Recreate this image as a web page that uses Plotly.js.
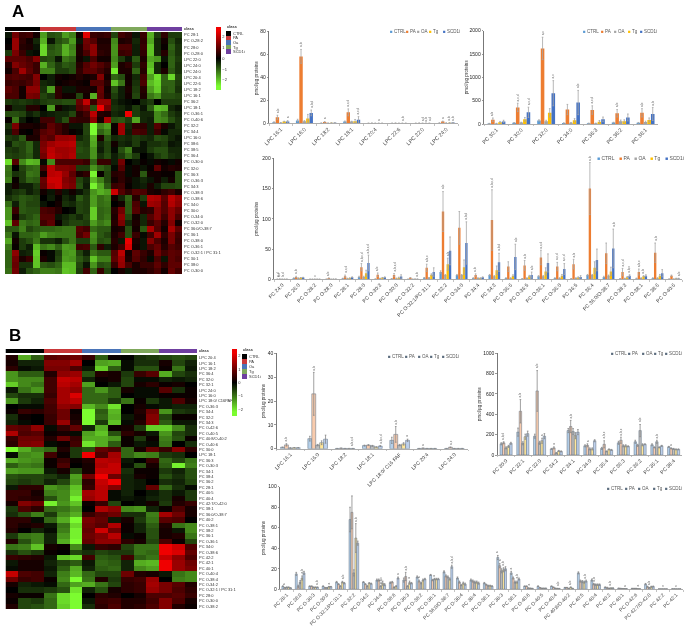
<!DOCTYPE html>
<html><head><meta charset="utf-8">
<script src="https://cdn.plot.ly/plotly-3.0.1.min.js"></script>
<style>html,body{margin:0;padding:0;background:#fff}#p{width:685px;height:629px;filter:blur(.35px)}</style>
</head><body><div id="p"></div>
<script>
const seriesNames=['CTRL','PA','OA','Tg','SCD1i'];
const classNames=['CTRL','PA','Oa','Tg','SCD1i'];
const classColors=['#000000','#C9383A','#4A74B8','#7FA85C','#6F3FA0'];
const seriesColorsA=['#5B9BD5','#ED7D31','#A5A5A5','#FFC000','#4472C4'];
const seriesColorsB=['#B5D0EA','#F8CBAD','#BFBFBF','#FFE699','#BDD0EC'];

const rowsA=['PC 28:1','PC O-28:2','PC 28:0','PC O-28:0','LPC 22:0','LPC 24:0','LPC 24:0','LPC 20:4','LPC 22:6','LPC 18:2','LPC 16:1','PC 36:2','LPC 18:1','PC O-36:1','PC O-40:6','PC 32:2','PC 34:4','LPC 16:0','PC 38:6','PC 38:5','PC 36:4','PC O-30:0','PC 32:0','PC 36:3','PC O-36:3','PC 34:3','PC O-38:3','PC O-38:6','PC 34:0','PC 30:0','PC O-34:0','PC O-32:0','PC 36:0/O-38:7','PC 36:1','PC O-38:0','PC O-36:1','PC O-32:1 / PC 31:1','PC 30:1','PC 38:0','PC O-30:0'];
const heatA=[
[-.2,1.2,.6,.7,.2,-1.6,-.8,-.9,-1.6,-1.3,.2,2.4,.6,.5,.6,-.7,.7,.5,-.2,.6,-1.8,-.6,.5,-.6,-.6],
[0,1.6,.5,.2,-.4,-1.8,-.2,-.8,-1,-1.6,-.2,1.2,.9,.3,.3,-1.4,.3,.4,-.4,.5,-1.7,-.4,.2,-.8,-.4],
[.1,1.6,.4,.3,-.2,-2.2,-.8,-1,-1.8,-1.3,.3,1.1,1.5,.4,.4,-1.5,.8,.8,-.3,.6,-2,-.4,.1,-1,-.5],
[-.6,1.3,.6,-.2,-.1,-2.2,-.9,-1,-1.8,-1.4,.3,.8,1.5,.5,.4,-1.5,.6,.7,-.3,.5,-2,-.4,.4,-.9,-.5],
[1,1,1,.8,1.4,-.7,-.8,-.2,-1.2,-1,.2,-.2,.8,.2,.2,-1.4,-.6,-.2,-.9,.3,-1.7,-1.5,-.2,-1,-.6],
[.4,1.4,1.1,.9,.6,-1.8,-1,-.6,-.9,-.8,.4,.9,1.2,.9,.6,-1.6,.3,.5,-.6,.5,-1.9,-.4,0,-1,-.5],
[.2,.8,1.7,1,.6,-1.3,-1.3,-.6,-.6,-.8,.5,1,1,.7,.4,-2.4,.3,.3,-1,.4,-2.1,-.4,.3,-.9,-.5],
[.8,.9,.8,.7,1.4,0,-.3,.2,.1,.2,.4,.2,.3,1.4,.2,-1,-.8,.2,-.4,.7,-1.6,-2.3,-1,-2.2,-.7],
[.6,.7,.6,.8,1.3,-.4,-.3,.1,.2,.3,.2,.1,.9,.9,.4,-2,-1.2,.2,-.5,.8,-1.9,-2.2,-1,-1,-.6],
[1,.8,.2,1.5,1.5,-.5,-1.6,.5,-.2,-.2,.3,.3,.2,1.1,.2,-.8,-.3,.3,-.6,.4,-1.6,-2.1,-.9,-1,-.5],
[.8,.8,.2,1.3,1.2,-.7,-.5,.5,.2,.2,-.7,.2,-1.8,1,.3,-.6,-.3,.2,-.7,.3,-1.2,-1.5,-.8,-.8,-.7],
[-.6,-.5,-.6,-.5,-.4,-.6,-.7,-.7,-.8,-.8,1.1,2.1,.6,1.6,1.6,-.4,-.2,-.1,0,-.4,-.6,0,-.6,-.6,-.6],
[.2,-.4,-.4,.4,.4,0,-1.6,.2,-.2,-.3,.9,1.2,-.8,2.6,1.2,-.5,-.4,-.2,-.6,-.2,-.9,-1.9,-1.8,-.4,-.2],
[-.8,-.8,-.7,-.3,-.5,-.2,-.3,-.4,-.4,-.7,.4,.7,2,.4,.3,-.4,-.3,2.8,-.6,-.4,-.4,-1.4,-1.1,-.6,-.4],
[.1,-1.2,-.3,0,-.1,.7,.7,-.4,-.8,.6,.5,.5,1.5,.2,1.8,-.8,-.9,-.6,-1.7,-.4,-.3,-1.4,-1.3,-.8,-.5],
[-.5,1.3,.3,.3,.2,.4,1,.7,.4,-.2,-.2,-.7,-2.6,-1.3,-1.6,.1,1.7,-.4,.5,.5,-.3,.9,.3,-.2,-.5],
[-.3,.8,.1,0,.4,.9,1.1,.7,.4,.1,-.1,-.7,-2.6,-1,-1.3,.1,1.7,-.3,.8,.7,-.3,.6,-.1,-.4,-.4],
[-.6,-.5,-.9,.3,.3,1.1,.9,1.6,1.6,1.7,-.4,-.6,-1.8,.3,-.9,-.4,-.5,-.4,-.6,-.5,-.4,-.8,-.7,-.4,-.2],
[-.3,-.8,-.7,-1,-.4,1.3,1.7,1.9,1.9,2,-.7,-.6,-1.7,-.4,-.7,.2,-.4,-.3,-.6,-.2,-.5,-.5,-.6,-.2,-.3],
[-.6,-.5,-.7,-1,-.4,1.4,2,1.7,1.7,1.8,-.8,-.7,-1.5,-.3,-.7,-.1,-.8,-1.3,-.2,-.2,-.6,-.8,-.8,-.4,-.4],
[-.7,-.6,-.7,-.9,-.4,1.2,2.1,1.8,1.7,1.9,-.7,-.7,-1.5,-.5,-.8,-.3,-.6,-1,-.6,0,-.2,-.6,-.8,-.5,-.4],
[-2.3,.9,-1.4,-1.9,-1.8,-.1,-1.4,.8,.8,.8,.8,.6,-1,.6,.6,-.3,1.2,0,-.2,.1,-.1,.2,.1,-.1,.2],
[-1.2,0,-.7,-1,-1.1,.7,2,1.4,1.4,1.3,-.6,-.6,-1.5,-1,-.8,-.1,.9,-.1,.2,-.2,.1,1,.2,.4,.3],
[-1.1,-.5,-.6,-1.2,-1.1,.2,2,2.1,1.6,1,.3,.5,-2.5,.1,-.7,.4,.5,-.1,.2,-.9,.2,.2,.1,.1,-.8],
[-1.3,.1,-.6,-1,-.9,1.1,2.2,2.2,1.4,1.2,-.7,-.4,-1.9,-1.3,-.7,.2,.5,.2,-.2,-.4,-.2,.2,-.3,.2,-.8],
[-.3,.2,-.3,-.3,-.6,1,2,2.2,1.5,1.3,-.8,-.3,-2.5,-1.7,-.9,.6,.7,.1,-.2,-.3,.3,-.3,-.7,-.7,-.8],
[-.3,-.5,-.6,-.3,-.5,.2,-.2,.4,-.2,.2,-.2,-.5,-1.5,-1.8,-1.6,2.2,.9,.5,.9,.8,.3,.2,.5,.7,.3],
[-.5,-.7,-.9,-.8,-.7,0,-.3,.1,-.4,-.2,-.9,-.6,-1.6,-1.1,-1.3,.2,-.4,-1,.4,-.6,1.9,1.8,1,2,1.6],
[-1.1,-.3,-.9,-.7,-.7,-.2,0,.2,-.5,-.4,-.7,-.6,-1.6,-1.1,-1.2,0,.2,-.9,.8,-.2,1.7,1.6,.9,1.9,1.5],
[-1.5,.6,-.9,-.8,-.8,.8,.7,.4,0,-.1,-.7,-.6,-2.1,-1,-1.1,.4,1.2,-.9,.9,.4,.5,1.4,.9,1.5,1.1],
[-1.5,.2,-.6,-.8,-1,.9,.9,-.2,-.4,-.6,-.4,-.7,-2.1,-1,-1.2,.3,1.5,-.7,.2,-.4,.9,1.4,.7,1.5,.8],
[-2,1,-1.2,-1,-1.1,.7,1,.1,-.5,-.7,-.7,-.6,-1.6,-1.2,-1.4,.4,1.3,-.4,.3,-.4,.6,1,.4,1.4,.2],
[-.9,-.9,-1.3,-.7,-.9,-1,-1,-1.1,-1.2,-1.2,.9,.7,-1.1,-.9,-.9,.2,.3,-.8,.2,-.9,1.8,.9,.2,1.8,1],
[-1.2,-.2,-1,-1,-1.1,-1.6,-1.3,-1.2,-1.2,-1.2,.8,1.2,-1.5,-.9,-.7,.3,.7,-.8,.6,-.1,.7,1.7,.5,1.3,.7],
[-1.7,.2,-.6,-.8,-1.2,-.5,-.5,-.3,-.8,-1.2,-.6,-.6,-1.4,-.8,-.9,.4,-.2,2.5,.3,-.2,1.4,.8,.3,1.3,.6],
[-1.2,.1,-.6,-.3,-1.9,-1.2,-1.4,-1,-1.6,-1.5,.7,.8,-.9,.5,-.3,.3,.7,2.3,.2,-.2,.8,1.1,.4,.9,.7],
[-1,1.5,-.3,-.4,-2.1,.1,-.1,-.6,-1.5,-1.6,-.7,-.3,-1.2,-.9,-.9,.9,2,.2,1,.6,.3,1.2,.7,1,.9],
[-1,1.2,.3,.6,-2,.3,-.1,-.7,-1.6,-1.5,-.9,-.6,-2,-1.3,-1.3,1,1.7,.3,.9,.5,-.1,.8,-.2,1,.8],
[-1,1.1,-.5,-.5,-2,-.9,-.8,-1,-1.9,-1.9,-.7,-.2,-1.5,-.8,-.9,.6,1.6,.8,.3,.6,.6,1,.5,1,1],
[-1.1,1.2,-.3,-.8,-1,-1.3,-1.3,-1.2,-2,-1.9,-.6,.7,-1,.6,-.7,0,.3,-.2,.3,.3,.5,.8,.2,1.1,.7]];

const rowsB=['LPC 20:4','LPC 16:1','LPC 18:2','PC 36:4','PC 32:0','PC 32:1','LPC 24:0','LPC 16:0','LPC 18:0/ C16PAF','PC O-36:3','PC 34:4','PC 32:2','PC 34:3','PC O-42:6','PC O-40:5','PC 40:8/O-40:2','PC O-40:6','PC 30:0','LPC 18:1','PC 36:3','PC O-30:3','PC 34:1','PC 38:4','PC 36:2','PC 28:1','PC 40:5','PC 40:4','PC 42:7/O-42:0','PC 38:1','PC 36:0/O-38:7','PC 40:2','PC O-38:1','PC 38:2','PC 36:1','PC O-36:1','PC 34:0','PC O-38:6','PC 42:2','PC 42:1','PC 40:1','PC O-40:4','PC O-38:4','PC O-34:2','PC O-32:1 / PC 31:1','PC 28:0','PC O-30:0','PC O-38:2'];
const heatB=[
[.3,-1.5,-.8,.8,.9,1,.5,-.8,.1,0,-.4,-.5,-.6,-.7,-.6],
[.2,-.3,-.3,1.2,1.2,1.5,0,-1.4,-1.5,-.1,-.4,-.4,.2,-.6,-.3],
[.4,-.1,-.2,1.1,1.1,.7,-.2,-1.8,-.8,-.1,-.7,-.7,.1,-1,-.2],
[-1.3,-.8,-.8,.3,1.3,1.4,-.7,.3,.2,-.5,.5,.8,-1.5,-.6,-.4],
[-1.3,-1.2,-1.2,.6,1.8,1.7,-.3,.1,.2,-.6,-.1,-.1,-.3,-.2,-.3],
[-1.8,-1.2,-1,.6,1.7,1.5,-1.4,0,-.2,-.6,.2,.4,.1,.2,0],
[-.2,-1,-1.3,.6,1.5,1.3,-.9,-1.3,-.8,.2,-.1,-.1,.8,-.4,.1],
[-.6,-.4,-.4,.5,1.5,2,-.9,-.9,-.8,0,-.1,-.1,.1,.1,.1],
[-1.3,-.5,-.3,.7,1.5,1.7,-.9,-.9,-.5,-1,.1,-.5,-.2,.7,.2],
[0,-.1,-.1,.6,1.3,1.2,-1.6,-1.2,-2,0,.2,-.1,-.2,-.3,-.3],
[.1,.5,.4,.6,1,.1,-2.2,-.8,-1.6,0,.3,1,-1.3,-.5,-.4],
[-.4,.1,0,.5,1,.2,-2.3,-.9,-1.5,-.2,.2,1.2,-.6,.1,.1],
[-.3,-.1,0,.5,1.4,.3,-2.2,-.5,-1.7,-.1,.3,1.2,-.8,-.2,-.2],
[.9,.8,1.3,-.1,.5,.9,-.3,-1.5,.1,.2,-.5,-1.8,-1.8,-1.2,-.4],
[1.6,.7,.8,.1,.2,-.1,-1.4,-1.7,-.7,.4,.2,-.2,-1.3,-.6,-.4],
[.5,1,1,.3,1,.5,-1.5,-1.5,-1.3,.1,-.5,.1,-1.1,-.7,.1],
[.4,1.1,1.2,-.1,.1,.6,-2,-1.5,-.8,.1,-.2,-.1,-1,0,-.4],
[-2.2,-1.5,-1.1,-.9,.3,-.5,-.7,.9,.7,-.9,.2,.9,.5,1.2,.4],
[-.1,-1.2,-1.3,.6,.1,-.5,2.2,.7,1.5,-.9,-1.2,-1.1,-.5,-.4,0],
[-1.5,-1.3,-1.2,.1,.5,.1,.3,1.7,1.6,-.2,0,.5,-.9,-.6,-1],
[-.8,-1.1,-1,.1,.7,0,.2,1.6,1.8,-.1,-.7,.2,-.8,-2.1,-1.1],
[-1.4,-1.3,-1.3,-.2,.2,-.6,.2,1.8,1.8,-.4,.1,.1,-.5,-.3,-.7],
[-.7,-.6,-.6,-.5,-.3,-1.4,1,2.3,1,-.3,.2,.1,-.7,-.4,-.7],
[-.6,-.5,-.6,-.3,-.6,-1.3,.4,1.8,2.4,-.3,-.2,0,-.4,-.3,-.6],
[-.2,.4,.4,-1.3,-1.1,-1.7,.5,1.7,1.2,-.3,-.2,.9,-.9,-.4,-.1],
[.5,.5,.2,-1.1,-1.2,-1.8,1.5,1.7,-.1,-.3,0,-.2,-.4,-.2,-.5],
[.5,.4,.3,-.7,-1.2,-2.1,1.4,1.7,-.1,-.2,-.1,-.3,-.4,.2,-.5],
[.2,1.2,1,-2.1,-1.3,-1.7,.1,.5,-.6,0,-.1,.2,-.5,.3,.5],
[-.5,.7,.4,-.9,-1,-1.3,0,1.6,1.3,-1.2,-1.3,-.3,.1,.7,.2],
[-.4,-.7,-1.1,-.5,-1.2,-1.5,.5,.8,1,-.4,-.4,-1.1,1.5,1,.2],
[.4,.4,-.1,-.9,-1.5,-2.3,1.1,.9,-.2,.2,-.5,-1,.8,.7,0],
[.4,.2,.3,-.2,-1,-1.9,1,.8,1.6,.1,-.3,-.8,.3,-1,-1.2],
[.3,0,-.3,-.1,-1.1,-2.1,.9,1.9,1,.1,-.3,-.7,.2,-.2,-1.2],
[-.5,-1,-1.1,-.3,-1.3,-2.1,1,1.2,1.7,-.1,.1,-.7,.2,.3,-1],
[.3,-.7,-1.1,-.3,-1.5,-2.3,.9,1.3,1.3,.4,.2,-.6,.7,.1,-.6],
[-1,-1.1,-1.7,.2,.1,-1.2,-.2,.5,.4,-.6,-1,-1,2.2,1.9,.7],
[-.4,-.7,-.5,.1,0,-.6,-.4,-.6,-.5,-.5,-1,-.9,2.2,2,.9],
[.5,.4,.3,-.2,-1.7,-1.9,.6,-.8,-.7,.6,-.8,-1,1.8,1.3,.7],
[-.2,.2,.2,-.3,-.6,-.8,-.2,-.9,-.8,-.3,-1.5,-1.6,2.5,1.4,1],
[-.1,.2,.2,-.2,-.8,-1.5,-.3,-.8,-.9,-.3,-1.2,-1.4,2.4,1.4,1.1],
[1.8,.7,.6,-.3,-1.1,-1.6,-.9,-.6,-.6,1,.3,.2,-.2,-1,-1.2],
[1,.5,.6,.1,-1.2,-2.3,-1,.3,-.5,.5,.6,1.4,0,-1.1,-1.2],
[.2,-.3,-.2,-.1,-.9,-1.4,-1.5,-1,-.6,.4,.5,1.5,1.1,.8,.3],
[0,-.4,-.4,-.5,-.7,-2,-.3,-.7,.2,.4,.5,1.4,1.1,.7,.4],
[.2,.1,.1,-1,-1.9,-2.5,0,.4,.3,0,.2,.7,.7,.8,.5],
[.1,-.6,-.5,-.9,-1.9,-2.5,-.2,.5,.6,.3,.3,.6,1.2,.7,.2],
[.3,-.6,-.7,-.9,-1.8,-2.4,-.4,.4,.7,.3,.4,.7,1.2,.3,.1]];

const catsA1=['LPC 16:1','LPC 16:0','LPC 18:2','LPC 18:1','LPC 20:4','LPC 22:6','LPC 22:0','LPC 24:0'];
const valsA1=[[1,5.2,.5,1.5,1.5],[2.5,58,1.8,4.2,9],[.2,1.2,.2,.4,.5],[1.5,9.5,1.5,1.8,3],[.1,.2,.1,.1,.1],[.1,.2,.1,.1,.1],[.1,.2,.1,.1,.1],[.3,1.5,.3,.4,.6]];
const errsA1=[[.3,1.8,.2,.3,.8],[1,6,.5,3.5,2.5],[.1,.3,.1,.1,.1],[.5,3,.3,1.5,2.8],[0,.1,0,0,0],[0,.1,0,0,0],[0,.1,0,0,0],[.1,.4,.1,.1,.1]];
const sigA1=[[0,1,'a,b'],[0,4,'a'],[1,1,'a,b'],[1,4,'a,b,d'],[2,1,'a'],[3,1,'a,c,d'],[3,4,'a,c,d'],[4,3,'a'],[5,3,'a,b'],[6,2,'a,d'],[6,4,'a,d'],[6,3,'a,b'],[7,1,'a'],[7,3,'a,b'],[7,4,'a,b']];

const catsA2=['PC 30:1','PC 30:0','PC 32:0','PC 34:0','PC 36:3','PC 36:2','PC 36:1'];
const valsA2=[[10,90,10,40,55],[25,355,30,100,250],[75,1620,60,240,660],[20,310,25,80,460],[15,300,15,50,100],[30,230,60,60,140],[25,240,45,85,215]];
const errsA2=[[3,40,5,15,25],[5,90,8,40,110],[15,240,20,90,270],[5,110,8,35,260],[5,90,5,25,50],[8,80,25,30,75],[8,90,15,45,140]];
const sigA2=[[0,1,'a,b'],[1,1,'a,c,d'],[1,4,'a,c,d'],[2,1,'a,c'],[2,4,'a,c'],[3,4,'a,b'],[4,1,'a,c,d'],[5,1,'a,b'],[6,1,'a,b'],[6,4,'a,b']];

const catsA3=['PC 24:0','PC 26:0','PC O-28:2','PC O-28:0','PC 28:1','PC 28:0','PC O-30:3','PC O-30:0','PC O-32:2','PC O-32:1/PC 31:1','PC 32:2','PC O-34:0','PC 34:4','PC 34:3','PC O-36:6','PC O-36:5','PC O-36:1','PC O-36:0','PC 36:5','PC 36:4','PC 36:0/O-38:7','PC O-38:3','PC O-38:1','PC 38:6','PC O-40:6'];
const valsA3=[[.3,.5,.3,.3,.3],[2,4,2,2.5,3],[.3,.3,.3,.3,.3],[.3,2,.3,.5,.5],[1.5,5,1.5,2,3.5],[4,20,4,10,27],[.5,7.5,1.5,2.5,3.5],[1,7,1.5,2.5,4.5],[.3,2.5,.3,.5,.5],[2.5,19,2.5,7.5,12],[12,112,7,25,47],[7,85,7,20,60],[2,7,2,2,3.5],[7,98,5,15,28],[2,21,2,6,37],[1,23,2,5,7],[5,36,5,13,27],[2,21,2,6,17],[1,25,2,3,4],[7,150,7,19,32],[4,43,6,13,51],[1,12,1.5,3.5,6],[1.5,12,2,5,6],[2,44,2,6,10],[.5,6,.5,1.5,1.5]];
const errsA3=[[.1,.1,.1,.1,.1],[.3,1,.3,.3,.3],[.1,.1,.1,.1,.1],[.1,.3,.1,.1,.1],[.3,2,.3,.5,.5],[1,6,1,5,13],[.2,3,.3,.5,.5],[.2,2.5,.5,1,3],[.1,.3,.1,.1,.1],[.5,6,.5,1.5,7],[2,33,1,10,23],[1,27,1,12,35],[.5,2,.5,.5,.5],[1,50,1,7,15],[.5,8,.5,1.5,21],[.3,8,.5,1.5,5],[1,12,1,6,15],[.5,7,.5,2,9],[.3,8,.5,1,2],[1,43,1,10,18],[1,17,1,7,32],[.3,6,.3,1,1.5],[.5,5,.5,1,1.5],[.5,16,.5,2,6],[.2,1,.2,.3,.3]];
const sigA3=[[0,0,'a,d'],[0,1,'a,c'],[0,2,'b,d'],[1,1,'a,b'],[2,2,'c'],[3,1,'a,b'],[4,1,'a,c,d'],[5,1,'a,b,c,d'],[5,4,'a,b,c,d'],[6,1,'a,b'],[7,1,'a,b,c,d'],[8,4,'a,b'],[9,1,'a,b,c'],[10,1,'a,b'],[10,3,'a,b'],[11,4,'a,b,d'],[12,1,'a,b'],[13,1,'a,b,c,d'],[13,4,'a,b,d'],[14,4,'a,b'],[15,1,'a,b'],[15,4,'a,b'],[16,1,'a,c,d'],[17,1,'a,c,d'],[17,4,'a,c,d'],[18,1,'a,b'],[19,1,'a,b'],[20,4,'a,b'],[21,1,'a,c,d'],[21,4,'a,b,c'],[22,1,'a,b,c'],[22,3,'a,b'],[23,1,'a,b'],[24,4,'a,b']];

const catsB1=['LPC 16:1','LPC 16:0','LPC 18:2','LPC 18:1','LPC 18:0/ C16 PAF','LPC 20:4','LPC 24:0'];
const valsB1=[[.6,1.6,.3,.4,.4],[4.2,23,1.5,2.5,4],[.1,.2,.1,.1,.1],[1.3,1.5,1.2,.7,1.1],[3.5,6,1.5,2,3.5],[.1,.2,.1,.1,.1],[.1,.6,.1,.1,.1]];
const errsB1=[[.1,.5,.1,.1,.1],[1,9,.3,.8,1.7],[0,.1,0,0,0],[.2,.2,.2,.1,.2],[1.3,3.3,.3,.5,.5],[0,.1,0,0,0],[0,.1,0,0,0]];
const sigB1=[[0,1,'a,b'],[1,1,'a,b'],[2,4,'a,b,c,d'],[3,4,'a,b,c,d'],[4,1,'a,b'],[4,4,'a'],[5,1,'a'],[6,1,'a,c']];

const catsB2=['PC 30:0','PC 32:1','PC 32:0','PC 34:2','PC 34:1','PC 34:0','PC 36:4','PC 36:3','PC 36:2','PC 36:1','PC 38:4'];
const valsB2=[[110,120,70,85,115],[225,430,115,180,210],[185,630,120,140,185],[60,70,20,40,35],[240,280,230,190,225],[90,95,60,60,140],[65,105,35,55,50],[120,145,90,90,85],[130,95,240,100,105],[100,75,130,75,90],[80,65,60,55,55]];
const errsB2=[[10,10,10,10,10],[40,115,15,25,25],[20,200,15,25,25],[5,10,5,5,5],[20,60,30,30,25],[10,15,10,10,10],[10,35,5,5,5],[15,30,10,10,5],[15,10,60,10,5],[10,5,15,5,5],[5,5,5,5,5]];
const sigB2=[[0,1,'a,b,d'],[1,1,'a,b'],[2,1,'a,b'],[2,3,'a'],[3,1,'a'],[4,1,'a,b'],[5,1,'a'],[6,1,'a,b,c'],[7,1,'a,b,c'],[8,2,'a,b'],[9,2,'a,b'],[10,1,'a']];

const catsB3=['PC 28:1','PC 28:0','PC O-30:3','PC O-30:0','PC O-32:1/PC 31:1','PC 32:2','PC O-34:2','PC 34:4','PC O-36:6','PC O-36:3','PC O-36:2','PC O-36:1','PC 36:0/O-38:7','PC O-38:4','PC 38:4','PC O-38:1','PC 38:3','PC 38:1','PC O-40:6','PC O-40:5','PC O-40:4','PC 40:8/O-40:2','PC 40:5','PC 40:4','PC 40:2','PC 40:1','PC O-42:6','PC 42:7/O-42:0','PC 42:2','PC 42:1'];
const valsB3=[[3,1.5,2,2,1.3],[15,3,7,11,16],[3,3,2,2,2],[3,1.5,1.5,2.5,2.5],[7,5,3,7,6],[68,75,16,50,45],[7,5,3,6,5.5],[9,9,3,6,4.5],[6.5,7,2,3,11],[9,12.5,3,6.5,6],[12,8,6,9,10],[14,9,10,10,10],[17,13,12,10,22],[11,7,4,6,5],[9,8,7,7,6],[6,4.5,3.5,3.5,3],[31,23,18,19,20],[16,11,7,7,10],[3,3,1.2,1,.8],[3,1.5,1,1,1],[3,2,1,.8,.7],[1.7,1.7,.8,2,.8],[16,8,7.5,7,8],[9,5,4.5,4.5,4.5],[2,1.5,1,1.2,1.2],[1,.8,.7,.6,.6],[.8,.8,.8,.5,.4],[5,2.5,1.5,2.5,2.7],[.3,.3,.3,.3,.3],[.4,.4,.3,.3,.4]];
const errsB3=[[.3,.3,.3,.3,.3],[1.5,1,1.5,2,1.5],[.3,.3,.3,.3,.3],[.3,.3,.3,.3,.3],[.7,.5,.5,.8,.7],[12,16,3,14,2],[.5,.5,.5,.5,.5],[1,1,.5,2,1],[.7,.7,.3,.5,1],[2,4,.5,1.5,.7],[1,1,.7,1,.7],[.5,.7,.7,.7,.7],[1,1,1,1,1.5],[1,1,.5,1,1],[1,1,1,1,1],[.7,.5,.5,.5,.5],[2,2,2,2,2],[1.5,1,1,1,1],[.3,.3,.2,.2,.2],[.3,.2,.2,.2,.2],[.3,.2,.2,.2,.2],[.2,.2,.2,.3,.2],[1,1,1,1,1],[1,.7,.7,.7,.7],[.3,.5,.2,.2,.2],[.2,.2,.1,.1,.1],[.2,.2,.2,.1,.1],[.7,.5,.3,.5,.5],[.1,.1,.1,.1,.1],[.1,.1,.1,.1,.1]];
const sigB3=[[0,1,'a'],[1,3,'a,b'],[2,4,'a,b'],[3,3,'a'],[4,3,'a,b'],[5,3,'a,b'],[7,2,'a,b,c'],[8,4,'a'],[9,1,'a,b'],[9,3,'a'],[10,1,'a'],[11,2,'a'],[12,4,'a,b,d'],[16,0,'a'],[16,1,'a'],[16,3,'a,b'],[17,0,'a'],[17,3,'a,b'],[18,2,'a'],[20,3,'a,b'],[21,3,'a,b'],[22,3,'a,b'],[23,1,'a,b'],[24,2,'a,b'],[25,3,'a'],[26,3,'a'],[27,2,'a,b'],[28,2,'n'],[29,2,'n']];

const W=685,H=629,data=[],annotations=[],layout={};
let axN=0;
function axes(x0,x1,y0,y1,xo,yo){
  axN++;
  const s=axN===1?'':axN;
  layout['xaxis'+s]=Object.assign({domain:[x0/W,x1/W],anchor:'y'+s,fixedrange:true},xo);
  layout['yaxis'+s]=Object.assign({domain:[1-y1/H,1-y0/H],anchor:'x'+s,fixedrange:true},yo);
  return {x:'x'+s,y:'y'+s};
}
const hide={visible:false,showgrid:false,zeroline:false};
const scale=[[0,'#7CFC30'],[.06,'#7CFC30'],[.5,'#000000'],[.94,'#F00000'],[1,'#F00000']];
const tick4={size:4,color:'#333',family:'Liberation Sans'};
const cs=(function(){const o=[];classColors.forEach((c,i)=>{o.push([i/5,c]);o.push([(i+1)/5,c]);});return o;})();

function heatPanel(z,rows,xL,xR,classTop,classBot,top,bot,perGroup,zlim,cb){
  const n=z[0].length;
  const a=axes(xL,xR,top,bot,Object.assign({},hide,{range:[-.5,n-.5]}),{side:'right',range:[rows.length-.5,-.5],showgrid:false,zeroline:false,showline:false,ticks:'',tickmode:'array',tickvals:rows.map((_,i)=>i),ticktext:rows,tickfont:tick4,ticklabelstandoff:1});
  data.push({type:'heatmap',z:z,xaxis:a.x,yaxis:a.y,zmin:-zlim,zmax:zlim,colorscale:scale,hoverinfo:'skip',
    colorbar:Object.assign({xanchor:'left',xpad:0,ypad:0,yanchor:'top',lenmode:'pixels',thickness:5,outlinewidth:0,tickmode:'array',tickvals:[-2,-1,0,1,2],ticktext:['−2','−1','0','1','2'],ticks:'',tickfont:tick4},cb)});
  const b=axes(xL,xR,classTop,classBot,Object.assign({},hide,{range:[-.5,n-.5]}),{side:'right',range:[-.5,.5],showgrid:false,zeroline:false,ticks:'',tickmode:'array',tickvals:[0],ticktext:['<b>class</b>'],tickfont:tick4,ticklabelstandoff:1});
  const row=[];classNames.forEach((_,i)=>{for(let k=0;k<perGroup;k++)row.push(i);});
  data.push({type:'heatmap',z:[row],xaxis:b.x,yaxis:b.y,zmin:-.5,zmax:4.5,colorscale:cs,showscale:false,hoverinfo:'skip'});
}
function classKey(x0,x1,y0,y1){
  const a=axes(x0,x1,y0,y1,Object.assign({},hide,{range:[-.5,.5]}),{side:'right',range:[4.5,-.5],showgrid:false,zeroline:false,ticks:'',tickmode:'array',tickvals:[0,1,2,3,4],ticktext:classNames,tickfont:tick4,ticklabelstandoff:1});
  data.push({type:'heatmap',z:[0,1,2,3,4].map(v=>[v]),xaxis:a.x,yaxis:a.y,zmin:-.5,zmax:4.5,colorscale:cs,showscale:false,hoverinfo:'skip'});
  annotations.push({text:'<b>class</b>',xref:'paper',yref:'paper',x:x0/W,y:1-(y0-1)/H,xanchor:'left',yanchor:'bottom',showarrow:false,font:tick4,borderpad:0});
}
function barPanel(cats,vals,errs,sig,colors,outlined,box,ymax,ytickvals,legendX,legendY,ytitleX,legendSize,catSize){
  const a=axes(box[0],box[1],box[2],box[3],
    {type:'category',categoryorder:'array',categoryarray:cats,range:[-.5,cats.length-.5],tickangle:-45,showgrid:false,zeroline:false,showline:true,linecolor:'#999',linewidth:.8,ticks:'outside',tickson:'boundaries',ticklen:1.5,tickcolor:'#999',tickwidth:.6,tickfont:{size:catSize,color:'#444',family:'Liberation Sans'}},
    {range:[0,ymax],showgrid:false,zeroline:false,showline:true,linecolor:'#555',linewidth:.8,ticks:'outside',ticklen:1.5,tickcolor:'#555',tickwidth:.6,tickmode:'array',tickvals:ytickvals,tickfont:{size:5,color:'#222',family:'Liberation Sans'}});
  seriesNames.forEach((name,s)=>{
    data.push({type:'bar',name:name,x:cats,y:vals.map(r=>r[s]),xaxis:a.x,yaxis:a.y,hoverinfo:'skip',
      marker:{color:colors[s],line:outlined?{color:'#5A6B7D',width:.5}:{width:0}},
      error_y:{type:'data',array:errs.map(r=>r[s]),visible:true,color:outlined?'#888':'#A6A6A6',thickness:.8,width:.8}});
    annotations.push({text:'<span style="color:'+(outlined?'#5A6B7D':colors[s])+'">■</span> '+name,xref:'paper',yref:'paper',x:legendX[s]/W,y:1-legendY/H,xanchor:'left',yanchor:'middle',showarrow:false,borderpad:0,font:{size:legendSize,color:'#555',family:'Liberation Sans'}});
  });
  sig.forEach(t=>{
    const c=t[0],s=t[1];
    annotations.push({text:t[2],xref:a.x,yref:a.y,x:c+(s-2)*(1-BARGAP)/5,y:vals[c][s]+errs[c][s],xanchor:'center',yanchor:'bottom',yshift:1,textangle:-90,showarrow:false,borderpad:0,font:{size:3.2,color:'#555',family:'Liberation Sans'}});
  });
  annotations.push({text:'pmol/µg proteins',xref:'paper',yref:'paper',x:ytitleX/W,y:1-(box[2]+box[3])/2/H,xanchor:'center',yanchor:'middle',textangle:-90,showarrow:false,borderpad:0,font:{size:4.6,color:'#333',family:'Liberation Sans'}});
}
const BARGAP=.28;

heatPanel(heatA,rowsA,5,182,27,31,32,274,5,2.93,{x:216/W,y:1-27/H,len:63});
classKey(226,231,31,54);
heatPanel(heatB,rowsB,5.5,197,349,353,355,609,3,2.5,{x:232/W,y:1-349/H,len:67});
classKey(242,247,354,379);

barPanel(catsA1,valsA1,errsA1,sigA1,seriesColorsA,false,[269,458,31,123.3],80,[0,20,40,60,80],[389,405,416,428,442],32,256,4.5,5.4);
barPanel(catsA2,valsA2,errsA2,sigA2,seriesColorsA,false,[484,658,30.7,124],2000,[0,500,1000,1500,2000],[582,600,613,627,639],32,466,4.5,5.4);
barPanel(catsA3,valsA3,errsA3,sigA3,seriesColorsA,false,[274,682,158.3,279.3],200,[0,50,100,150,200],[596,618,633,649,664],158,257,5,5.2);
barPanel(catsB1,valsB1,errsB1,sigB1,seriesColorsB,true,[276.7,468,353.3,448.7],40,[0,10,20,30,40],[387,404,417,429,441],356,263,4.5,5.2);
barPanel(catsB2,valsB2,errsB2,sigB2,seriesColorsB,true,[497.7,682,353.3,455],1000,[0,200,400,600,800,1000],[610,627,641,653,664],353,479,4.5,5.2);
barPanel(catsB3,valsB3,errsB3,sigB3,seriesColorsB,true,[280,683,486.7,589.3],100,[0,20,40,60,80,100],[606,624,637,652,664],488,263,4.5,5);

[['A',11,11],['B',8,335]].forEach(t=>annotations.push({text:'<b>'+t[0]+'</b>',xref:'paper',yref:'paper',x:t[1]/W,y:1-t[2]/H,xanchor:'left',yanchor:'middle',showarrow:false,borderpad:0,font:{size:17,color:'#000',family:'Liberation Sans'}}));

Object.assign(layout,{width:W,height:H,margin:{l:0,r:0,t:0,b:0},paper_bgcolor:'#fff',plot_bgcolor:'rgba(0,0,0,0)',showlegend:false,barmode:'group',bargap:BARGAP,bargroupgap:0,annotations:annotations,font:{family:'Liberation Sans'}});
Plotly.newPlot('p',data,layout,{staticPlot:true,displayModeBar:false});
</script></body></html>
